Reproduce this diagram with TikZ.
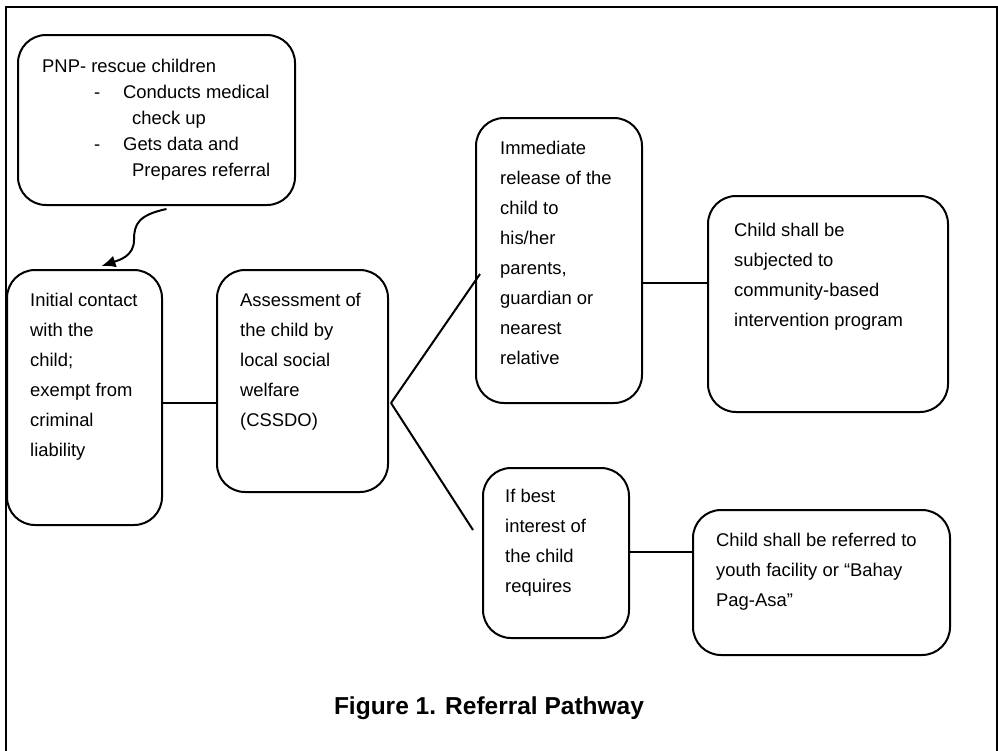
\documentclass[tikz,border=0pt]{standalone}
\usepackage{fontspec}
\setmainfont{Liberation Sans}
\usetikzlibrary{positioning, fit, arrows.meta}

\newcommand{\dashitem}{\makebox[81pt][l]{\hspace*{52pt}-}}

\tikzset{
  stage/.style={draw, line width=2pt, rounded corners=28pt, inner sep=0pt},
  stagetext/.style={align=left, inner sep=0pt, font=\fontsize{18.4}{30}\selectfont},
  link/.style={line width=2pt},
}

\begin{document}
\begin{tikzpicture}[x=1pt, y=-1pt]
      \useasboundingbox (0,0) rectangle (998,750);
      \draw[line width=2pt] (6,752) -- (6,7) -- (997,7) -- (997,752);

      % boxes
      \node[stage, fit={(18,35) (295,205)}] (pnp) {};
      \node[stage, fit={(7,270) (162,525)}] (init) {};
      \node[stage, fit={(217,270) (388,492)}] (assess) {};
      \node[stage, fit={(476,118) (642,403)}] (release) {};
      \node[stage, fit={(708,196) (948,412)}] (community) {};
      \node[stage, fit={(483,468) (629,638)}] (best) {};
      \node[stage, fit={(693,510) (950,655)}] (bahay) {};

      % texts
      \node[stagetext, font=\fontsize{18.4}{26}\selectfont, below right=24.5pt and 25pt of pnp.north west] (pnptext)
        {PNP- rescue children\\
         \dashitem Conducts medical\\
         \hspace*{90pt}check up\\
         \dashitem Gets data and\\
         \hspace*{90pt}Prepares referral};
      \node[stagetext, below right=23.5pt and 24pt of init.north west] (inittext)
        {Initial contact\\with the\\child;\\exempt from\\criminal\\liability};
      \node[stagetext, below right=23.5pt and 24pt of assess.north west] (assesstext)
        {Assessment of\\the child by\\local social\\welfare\\(CSSDO)};
      \node[stagetext, below right=23.5pt and 25pt of release.north west] (releasetext)
        {Immediate\\release of the\\child to\\his/her\\parents,\\guardian or\\nearest\\relative};
      \node[stagetext, below right=27.5pt and 27pt of community.north west] (communitytext)
        {Child shall be\\subjected to\\community-based\\intervention program};
      \node[stagetext, below right=21.5pt and 23pt of best.north west] (besttext)
        {If best\\interest of\\the child\\requires};
      \node[stagetext, below right=23.5pt and 24pt of bahay.north west] (bahaytext)
        {Child shall be referred to\\youth facility or “Bahay\\Pag-Asa”};

      \node[font=\fontsize{24.5}{28}\selectfont\bfseries, anchor=base] (caption) at (489,714)
        {Figure 1. Referral Pathway};

      % connectors
      \coordinate (fork) at (391,403);
      \coordinate (upend) at (480,274);
      \coordinate (lowend) at (473,530);
      \coordinate (bend) at (134,240);
      \draw[link, -{Latex[length=14pt, width=12pt]}] ([xshift=10pt, yshift=-3pt]pnp.south)
        .. controls +(-28,6) and +(0,-16) .. (bend)
        .. controls +(0,16) and +(18,-6) .. ([xshift=17pt, yshift=3pt]init.north);
      \draw[link] (init.east |- fork) -- (assess.west |- fork);
      \draw[link] (fork) -- (upend);
      \draw[link] (fork) -- (lowend);
      \draw[link] (release.east |- 0,283) -- (community.west |- 0,283);
      \draw[link] (best.east |- 0,552) -- (bahay.west |- 0,552);
    \end{tikzpicture}
\end{document}
